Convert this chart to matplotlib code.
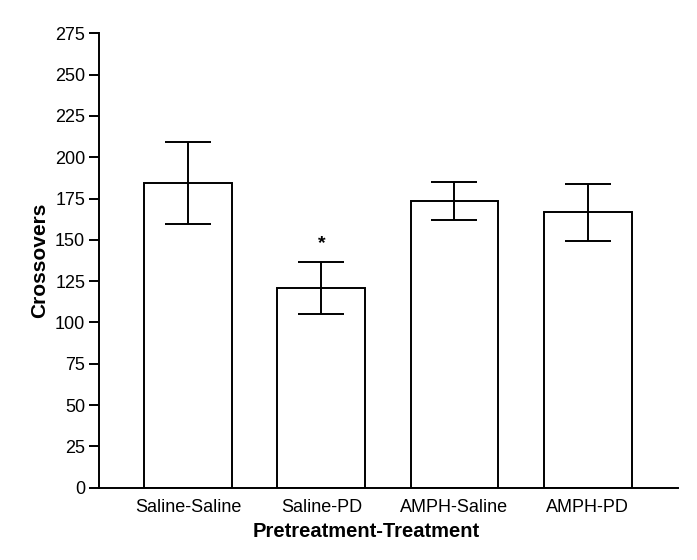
import matplotlib.pyplot as plt

plt.rcParams['font.family'] = ['Liberation Sans', 'DejaVu Sans']

groups = ['Saline-Saline', 'Saline-PD', 'AMPH-Saline', 'AMPH-PD']
means = [184.5, 120.8, 173.4, 166.7]
sems = [25.0, 15.5, 11.5, 17.4]
yticks = list(range(0, 276, 25))

fig = plt.figure(figsize=(6.97, 5.6), dpi=100)
ax = fig.add_axes([0.1425, 0.1291, 0.830, 0.8114])

x = range(len(groups))
ax.bar(x, means, width=0.66, color='white', edgecolor='black', linewidth=1.4, zorder=2)
ax.errorbar(x, means, yerr=sems, fmt='none', ecolor='black', elinewidth=1.4,
            capsize=16.5, capthick=1.4, zorder=3)

# significance marker over Saline-PD
ax.text(1, 148, '*', ha='center', va='center', fontsize=14, fontweight='bold')

ax.set_xlim(-0.667, 3.677)
ax.set_ylim(0, 275)
ax.set_yticks(yticks)
ax.set_xticks(list(x))
ax.set_xticklabels(groups, fontsize=13)
ax.tick_params(axis='y', length=7.2, width=1.4, labelsize=13, pad=3)
ax.tick_params(axis='x', length=0, pad=8)

for s in ['top', 'right']:
    ax.spines[s].set_visible(False)
for s in ['left', 'bottom']:
    ax.spines[s].set_linewidth(1.4)

ax.set_ylabel('Crossovers', fontsize=15, fontweight='bold', labelpad=4)
ax.set_xlabel('Pretreatment-Treatment', fontsize=14.5, fontweight='bold', labelpad=6)
ax.xaxis.set_label_coords(0.462, -0.075)

fig.savefig('out.png', dpi=100)
